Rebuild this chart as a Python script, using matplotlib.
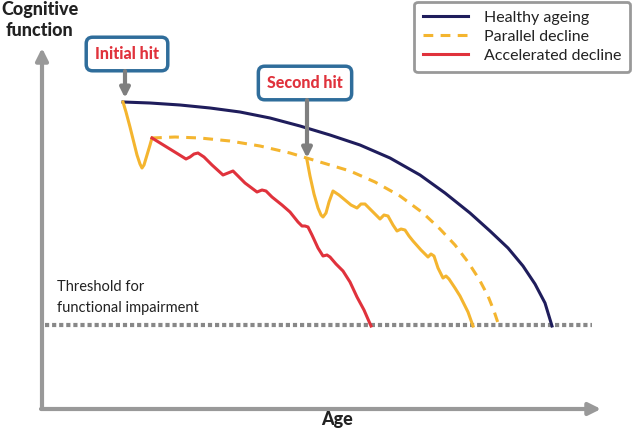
import matplotlib.pyplot as plt
from matplotlib.lines import Line2D

# Curves, in picture pixels (x to the right, y downwards)
healthy_x = [123, 150, 180, 210, 240, 270, 300, 330, 360, 390, 420, 445, 470, 490,
             508, 523, 535, 545, 552]
healthy_y = [102, 103, 105, 108, 112, 118, 126, 135, 145, 158, 175, 193, 213, 231,
             248, 266, 284, 303, 326]

first_drop_x = [123, 126, 130, 134, 137, 140, 142, 144, 147, 150, 152]
first_drop_y = [102, 112, 127, 143, 155, 164, 168, 165, 155, 145, 138]

parallel_x = [152, 175, 200, 230, 260, 290, 320, 350, 375, 400, 423, 440, 455, 468,
              479, 488, 494, 499]
parallel_y = [138, 137, 138, 141, 146, 153, 162, 171, 182, 196, 213, 229, 245, 262,
              279, 296, 311, 326]

second_x = [307, 310, 314, 318, 321, 323, 326, 329, 333, 339, 345, 351, 357, 361,
            365, 372, 380, 384, 388, 393, 397, 401, 405, 409, 413, 421, 428, 431,
            434, 438, 443, 446, 449, 455, 460, 468, 473]
second_y = [160, 176, 194, 208, 215, 217, 213, 202, 191, 195, 200, 205, 208, 204,
            204, 211, 219, 215, 216, 225, 231, 229, 230, 236, 241, 250, 257, 254,
            256, 268, 278, 276, 279, 288, 296, 312, 326]

accel_x = [152, 165, 178, 186, 190, 194, 198, 204, 212, 223, 228, 233, 238, 245,
           257, 262, 266, 272, 282, 290, 298, 302, 305, 308, 312, 318, 323, 327,
           330, 336, 343, 350, 357, 364, 371]
accel_y = [138, 146, 154, 159, 157, 154, 153, 157, 165, 175, 173, 171, 176, 183,
           192, 190, 191, 197, 205, 212, 222, 226, 226, 227, 235, 248, 256, 255,
           257, 264, 271, 282, 297, 310, 326]

threshold_y = 325
threshold_x = [45, 592]

legend_labels = ['Healthy ageing', 'Parallel decline', 'Accelerated decline']

navy = '#1f1d5c'
yellow = '#f4b52f'
red = '#e0323c'
grey = '#999999'
arrow_grey = '#7f7f7f'
box_blue = '#2f6d9b'

plt.rcParams['font.family'] = ['Lato', 'DejaVu Sans']

fig = plt.figure(figsize=(6.33, 4.32), dpi=100)
ax = fig.add_axes([0, 0, 1, 1])
ax.set_xlim(0, 633)
ax.set_ylim(432, 0)
ax.axis('off')

# Axes drawn as grey arrows
ax.annotate('', xy=(42, 48), xytext=(42, 409),
            arrowprops=dict(arrowstyle='-|>', lw=3, color=grey, mutation_scale=18, shrinkA=0, shrinkB=0))
ax.annotate('', xy=(601, 409), xytext=(41, 409),
            arrowprops=dict(arrowstyle='-|>', lw=3, color=grey, mutation_scale=18, shrinkA=0, shrinkB=0))

ax.text(40, 9, 'Cognitive', ha='center', va='center', fontsize=13, fontweight='black', color='#222222')
ax.text(40, 31, 'function', ha='center', va='center', fontsize=13, fontweight='black', color='#222222')
ax.text(337, 420, 'Age', ha='center', va='center', fontsize=13, fontweight='black', color='#222222')

# Threshold line
ax.plot(threshold_x, [threshold_y, threshold_y], color='#888888', lw=3,
        dashes=(1.0, 0.7), solid_capstyle='butt')
ax.text(57, 287, 'Threshold for', ha='left', va='center', fontsize=10.5, color='#222222')
ax.text(57, 308, 'functional impairment', ha='left', va='center', fontsize=10.5, color='#222222')

# Trajectories
ax.plot(healthy_x, healthy_y, color=navy, lw=2.2, solid_joinstyle='round')
ax.plot(parallel_x, parallel_y, color=yellow, lw=2.2, dashes=(3.2, 2.4))
ax.plot(first_drop_x, first_drop_y, color=yellow, lw=2.2, solid_joinstyle='round')
ax.plot(second_x, second_y, color=yellow, lw=2.2, solid_joinstyle='round')
ax.plot(accel_x, accel_y, color=red, lw=2.2, solid_joinstyle='round')

# Hit labels with arrows
box = dict(boxstyle='round,pad=0.55,rounding_size=0.4', fc='white', ec=box_blue, lw=2.5)
ax.text(127, 54, 'Initial hit', ha='center', va='center', fontsize=11.5, fontweight='black',
        color=red, bbox=box)
ax.annotate('', xy=(125, 98), xytext=(125, 71),
            arrowprops=dict(arrowstyle='-|>', lw=3, color=arrow_grey, mutation_scale=14, shrinkA=0, shrinkB=0))
ax.text(305, 83, 'Second hit', ha='center', va='center', fontsize=11.5, fontweight='black',
        color=red, bbox=box)
ax.annotate('', xy=(307, 158), xytext=(307, 100),
            arrowprops=dict(arrowstyle='-|>', lw=3, color=arrow_grey, mutation_scale=14, shrinkA=0, shrinkB=0))

# Legend
handles = [Line2D([], [], color=navy, lw=2.2),
           Line2D([], [], color=yellow, lw=2.2, dashes=(3.2, 2.4)),
           Line2D([], [], color=red, lw=2.2)]
leg = ax.legend(handles, legend_labels, loc='upper right', bbox_to_anchor=(630, 2),
                bbox_transform=ax.transData, fontsize=11.5, frameon=True, fancybox=True,
                handlelength=2.8, handletextpad=1.0, labelspacing=0.3, borderpad=0.55,
                borderaxespad=0, framealpha=1)
leg.get_frame().set_edgecolor(grey)
leg.get_frame().set_linewidth(2)
for t in leg.get_texts():
    t.set_color('#222222')

fig.savefig('out.png', dpi=100)
